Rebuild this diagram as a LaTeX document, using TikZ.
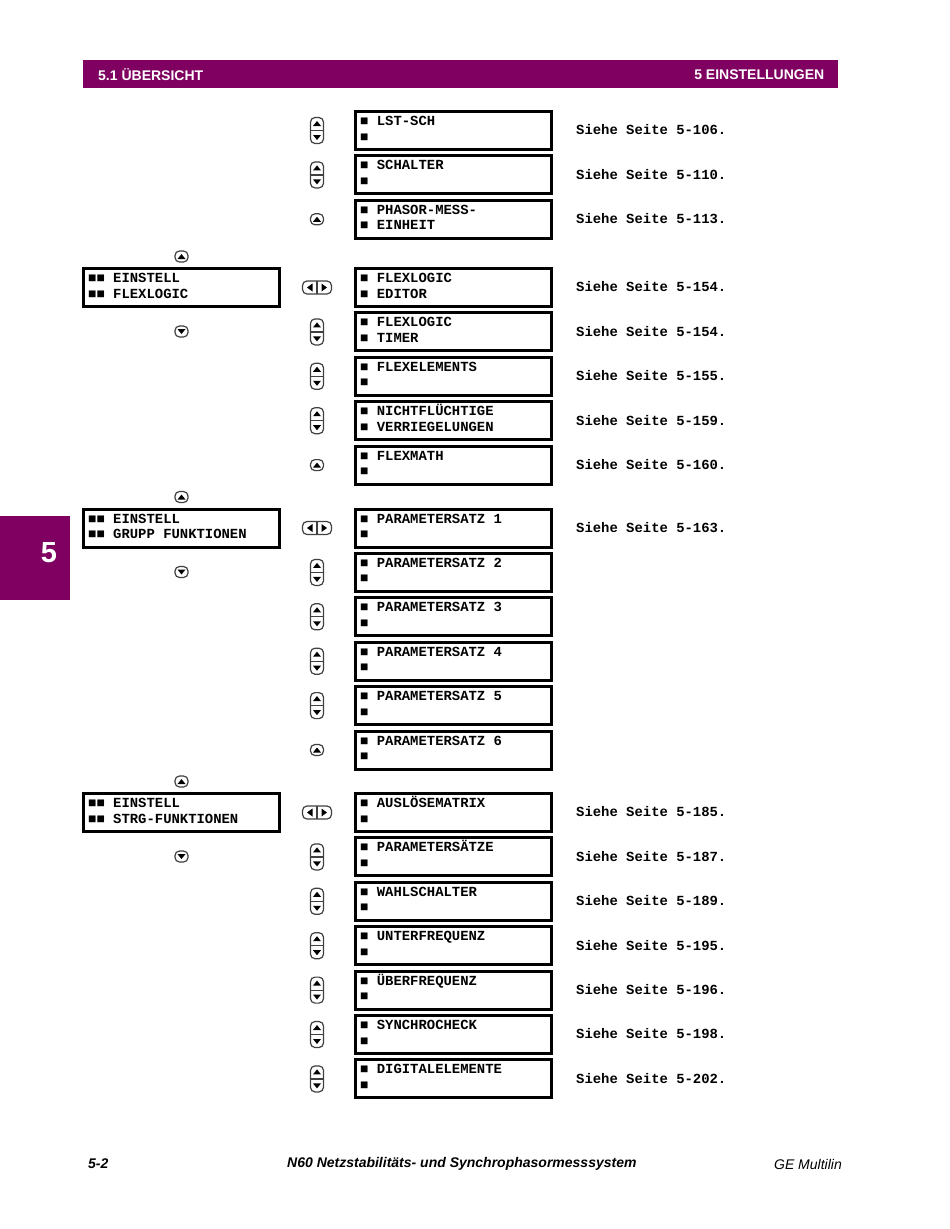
\documentclass[tikz,border=0pt]{standalone}
\usepackage{fontspec}
\setmainfont{Liberation Sans}
\newfontfamily\menufont{Liberation Mono}
\usetikzlibrary{calc}

\definecolor{gepurple}{RGB}{128,0,98}

\tikzset{
  menubox/.style={draw, line width=3pt, minimum width=196pt, minimum height=38pt, inner sep=0pt},
  menutext/.style={font=\menufont\bfseries\fontsize{13.9}{16}\selectfont, inner sep=0pt, anchor=base west},
  seetext/.style={font=\menufont\bfseries\fontsize{13.9}{16}\selectfont, inner sep=0pt, anchor=west},
  keyline/.style={draw=black!75, line width=1.2pt, fill=white, rounded corners=4.5pt},
  updownkey/.pic={
    \draw[keyline] (-6.5,-13) rectangle (6.5,13);
    \draw[black!75, line width=1.2pt] (-6.5,0) -- (6.5,0);
    \fill (-4,-4.5) -- (4,-4.5) -- (0,-9.5) -- cycle;
    \fill (-4,4.5) -- (4,4.5) -- (0,9.5) -- cycle;
  },
  upkey/.pic={
    \draw[keyline] (-6.5,-5.5) rectangle (6.5,5.5);
    \fill (-4,2.5) -- (4,2.5) -- (0,-2.5) -- cycle;
  },
  downkey/.pic={
    \draw[keyline] (-6.5,-5.5) rectangle (6.5,5.5);
    \fill (-4,-2.5) -- (4,-2.5) -- (0,2.5) -- cycle;
  },
  lrkey/.pic={
    \draw[keyline] (-14.5,-6.5) rectangle (14.5,6.5);
    \draw[black!75, line width=1.2pt] (0,-6.5) -- (0,6.5);
    \fill (-4.5,-4) -- (-4.5,4) -- (-10,0) -- cycle;
    \fill (4.5,-4) -- (4.5,4) -- (10,0) -- cycle;
  }
}

\newcommand{\bul}{■}

\begin{document}
\begin{tikzpicture}[x=1pt, y=-1pt]
  \useasboundingbox (0,0) rectangle (950,1229);

  % page head
  \node[fill=gepurple, minimum width=755pt, minimum height=28pt, inner sep=0pt, anchor=north west] (head) at (83,60) {};
  \node[text=white, font=\bfseries\fontsize{14}{16}\selectfont, anchor=west, inner sep=0pt] (sect) at ([xshift=15pt]head.west) {5.1 ÜBERSICHT};
  \node[text=white, font=\bfseries\fontsize{14}{16}\selectfont, anchor=east, inner sep=0pt] (chap) at ([xshift=-14pt]head.east) {5 EINSTELLUNGEN};

  % chapter tab
  \node[fill=gepurple, minimum width=70pt, minimum height=84pt, inner sep=0pt, anchor=north west] (tab) at (0,516) {};
  \node[text=white, font=\bfseries\fontsize{29}{30}\selectfont, inner sep=0pt] (tabnum) at (49,552.5) {5};

  % submenu column
  \foreach \n/\la/\lb/\k/\pg [count=\i from 0] in {
      lstsch/LST-SCH//updownkey/5-106,
      schalter/SCHALTER//updownkey/5-110,
      pmu/PHASOR-MESS-/EINHEIT/upkey/5-113}
  {
    \node[menubox] (\n) at (453.5,{130.5+44.4*\i}) {};
    \node[menutext] at ([xshift=6pt,yshift=-15.5pt]\n.north west) {\bul\ \la};
    \node[menutext] at ([xshift=6pt,yshift=-31pt]\n.north west) {\bul\ \lb};
    \pic at (317,{130.5+44.4*\i}) {\k};
    \node[seetext] (\n-see) at (576,{130+44.4*\i}) {Siehe Seite \pg.};
  }

  \foreach \n/\la/\lb/\k/\pg [count=\i from 0] in {
      fleditor/FLEXLOGIC/EDITOR/lrkey/5-154,
      fltimer/FLEXLOGIC/TIMER/updownkey/5-154,
      flexel/FLEXELEMENTS//updownkey/5-155,
      latches/NICHTFLÜCHTIGE/VERRIEGELUNGEN/updownkey/5-159,
      flexmath/FLEXMATH//upkey/5-160}
  {
    \node[menubox] (\n) at (453.5,{287.5+44.4*\i}) {};
    \node[menutext] at ([xshift=6pt,yshift=-15.5pt]\n.north west) {\bul\ \la};
    \node[menutext] at ([xshift=6pt,yshift=-31pt]\n.north west) {\bul\ \lb};
    \pic at (317,{287.5+44.4*\i}) {\k};
    \node[seetext] (\n-see) at (576,{287+44.4*\i}) {Siehe Seite \pg.};
  }

  \foreach \k [count=\i from 0] in {lrkey,updownkey,updownkey,updownkey,updownkey,upkey}
  {
    \node[menubox] (group\i) at (453.5,{528+44.4*\i}) {};
    \pgfmathtruncatemacro{\nr}{\i+1}
    \node[menutext] at ([xshift=6pt,yshift=-15.5pt]group\i.north west) {\bul\ PARAMETERSATZ \nr};
    \node[menutext] at ([xshift=6pt,yshift=-31pt]group\i.north west) {\bul};
    \pic at (317,{528+44.4*\i}) {\k};
  }
  \node[seetext] (group0-see) at (576,527.5) {Siehe Seite 5-163.};

  \foreach \n/\la/\k/\pg [count=\i from 0] in {
      trip/AUSLÖSEMATRIX/lrkey/5-185,
      setgroups/PARAMETERSÄTZE/updownkey/5-187,
      selector/WAHLSCHALTER/updownkey/5-189,
      underfreq/UNTERFREQUENZ/updownkey/5-195,
      overfreq/ÜBERFREQUENZ/updownkey/5-196,
      synchk/SYNCHROCHECK/updownkey/5-198,
      digel/DIGITALELEMENTE/updownkey/5-202}
  {
    \node[menubox] (\n) at (453.5,{812.5+44.4*\i}) {};
    \node[menutext] at ([xshift=6pt,yshift=-15.5pt]\n.north west) {\bul\ \la};
    \node[menutext] at ([xshift=6pt,yshift=-31pt]\n.north west) {\bul};
    \pic at (317,{812.5+44.4*\i}) {\k};
    \node[seetext] (\n-see) at (576,{812+44.4*\i}) {Siehe Seite \pg.};
  }

  % main menu column
  \foreach \n/\la/\lb/\y in {
      flexlogic/EINSTELL/FLEXLOGIC/287.5,
      grouped/EINSTELL/GRUPP FUNKTIONEN/528,
      control/EINSTELL/STRG-FUNKTIONEN/812.5}
  {
    \node[menubox] (\n) at (181.5,\y) {};
    \node[menutext] at ([xshift=6pt,yshift=-15.5pt]\n.north west) {\bul\bul\ \la};
    \node[menutext] at ([xshift=6pt,yshift=-31pt]\n.north west) {\bul\bul\ \lb};
    \pic at (181.5,\y-31) {upkey};
    \pic at (181.5,\y+44) {downkey};
  }

  % page foot
  \node[font=\bfseries\itshape\fontsize{14}{16}\selectfont, anchor=west, inner sep=0pt] (pagenr) at (88,1164) {5-2};
  \node[font=\bfseries\itshape\fontsize{14}{16}\selectfont, anchor=west, inner sep=0pt] (title) at (287,1164) {N60 Netzstabilitäts- und Synchrophasormesssystem};
  \node[font=\itshape\fontsize{14}{16}\selectfont, anchor=east, inner sep=0pt] (maker) at (842,1164) {GE Multilin};
\end{tikzpicture}
\end{document}
